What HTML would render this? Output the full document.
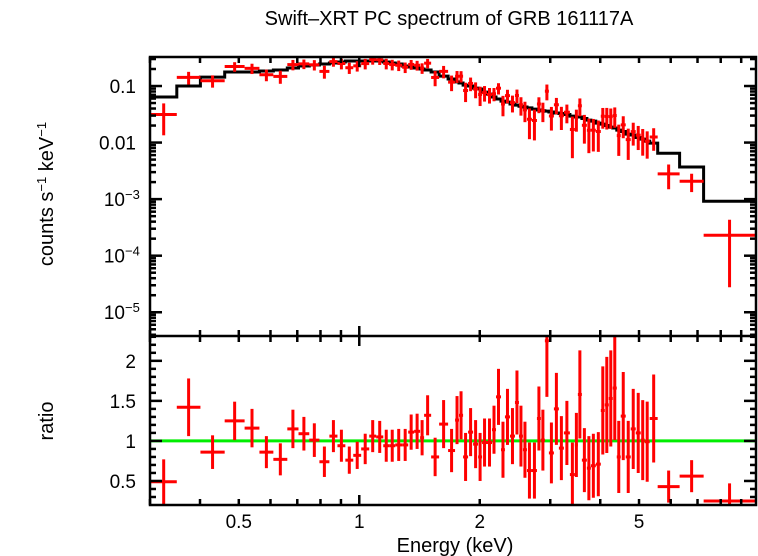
<!DOCTYPE html>
<html><head><meta charset="utf-8">
<style>
html,body{margin:0;padding:0;background:#fff;}
svg{display:block;font-family:"Liberation Sans",sans-serif;}
</style></head>
<body>
<svg id="chart" width="758" height="556" viewBox="0 0 758 556">
  <text x="449" y="25" font-size="20" text-anchor="middle">Swift–XRT PC spectrum of GRB 161117A</text>
  <text transform="translate(53,194) rotate(-90)" font-size="20" text-anchor="middle">counts s<tspan dy="-7" font-size="13">−1</tspan><tspan dy="7"> keV</tspan><tspan dy="-7" font-size="13">−1</tspan></text>
  <text transform="translate(53,421) rotate(-90)" font-size="20" text-anchor="middle">ratio</text>
  <text x="455" y="552" font-size="20" text-anchor="middle">Energy (keV)</text>
  <g id="topPanel"></g>
  <g id="botPanel"></g>
</svg>
<script>
const binEdges = [0.301,0.350,0.401,0.461,0.517,0.563,0.610,0.661,0.705,0.750,0.795,0.842,0.882,0.923,0.966,1.011,1.059,1.102,1.148,1.188,1.230,1.280,1.325,1.371,1.419,1.452,1.512,1.583,
1.667,1.735,1.775,1.817,1.870,1.925,1.981,2.027,2.085,2.146,2.196,2.260,2.312,2.380,2.449,2.506,2.564,2.624,2.700,2.779,2.843,2.909,2.977,3.064,3.153,3.245,3.359,3.457,3.517,3.599,3.704,3.790,3.900,4.013,4.106,4.202,4.299,4.399,4.501,4.632,4.767,4.906,5.049,5.166,5.316,5.566,6.315,7.251,9.77];
const modelValues = [0.064,0.100,0.144,0.177,0.177,0.184,0.192,0.208,0.226,0.235,0.245,0.255,0.266,0.277,0.277,0.277,0.277,0.277,0.266,0.255,0.245,0.226,0.217,0.208,0.200,0.192,0.177,
0.150,0.133,0.118,0.113,0.104,0.100,0.092,0.0885,0.078,0.072,0.064,0.059,0.054,0.052,0.048,0.046,0.044,0.0425,0.041,0.039,0.0376,0.0365,0.036,0.0347,0.0333,0.0327,0.0313,0.0294,0.0283,0.0283,0.0266,0.025,0.024,0.0221,0.0212,0.020,0.0188,0.0181,0.0166,0.0157,0.0141,0.0136,0.0123,0.0115,0.0106,0.0098,0.0065,0.0037,0.00092];
const ratioValues = [0.49,1.42,0.86,1.25,1.16,0.86,0.77,1.15,1.09,1.01,0.74,1.06,0.94,0.76,0.82,0.9,1.06,1.05,0.94,0.94,0.95,0.95,1.11,1.12,1.04,1.32,0.8,
1.21,0.88,1.26,1.32,0.8,1.11,0.96,0.8,0.98,0.98,1.14,1.55,0.89,1.3,1.06,1.48,1.06,0.89,0.63,0.63,1.28,1.01,2.25,0.85,1.4,0.91,1.1,0.58,0.95,1.58,0.76,0.66,0.69,0.71,1.38,1.45,1.53,1.66,0.8,1.31,0.8,1.15,1.1,1.01,0.99,1.28,0.43,0.56,0.25];
const ratioErrors = [0.28,0.36,0.21,0.24,0.24,0.2,0.2,0.24,0.21,0.21,0.19,0.2,0.2,0.17,0.17,0.19,0.2,0.2,0.2,0.2,0.2,0.2,0.22,0.22,0.22,0.25,0.24,
0.3,0.27,0.3,0.3,0.3,0.3,0.3,0.3,0.3,0.3,0.3,0.35,0.35,0.35,0.35,0.4,0.38,0.35,0.35,0.35,0.4,0.38,0.7,0.38,0.45,0.4,0.4,0.4,0.4,0.55,0.4,0.4,0.4,0.4,0.55,0.6,0.6,0.65,0.45,0.55,0.45,0.5,0.5,0.5,0.5,0.55,0.2,0.2,0.22];
const xTickLabels = ["0.5","1","2","5"];
const xTickValues = [0.5,1,2,5];
const ratioTickLabels = ["0.5","1","1.5","2"];
const ratioTickValues = [0.5,1,1.5,2];

const NS="http://www.w3.org/2000/svg";
const L=150,R=756,T=57,M=336,B=505;
const X_MIN=0.3,X_MAX=9.8;
const xs=e=>L+(Math.log10(e)-Math.log10(X_MIN))/(Math.log10(X_MAX)-Math.log10(X_MIN))*(R-L);
const YT_MIN=-5.42,YT_MAX=-0.487;
const yt=v=>{let lv=Math.log10(Math.max(v,1e-9));return M-(lv-YT_MIN)/(YT_MAX-YT_MIN)*(M-T);};
const RB_MIN=0.2,RB_MAX=2.31;
const yr=v=>B-(v-RB_MIN)/(RB_MAX-RB_MIN)*(B-M);
const clamp=(v,a,b)=>Math.max(a,Math.min(b,v));
function mk(tag,attrs,parent){const e=document.createElementNS(NS,tag);for(const k in attrs)e.setAttribute(k,attrs[k]);parent.appendChild(e);return e;}
const topG=document.getElementById('topPanel'),botG=document.getElementById('botPanel'),svgEl=document.getElementById('chart');

// model step
let d="";
for(let i=0;i<modelValues.length;i++){
  const x0=xs(binEdges[i]),x1=xs(binEdges[i+1]),y=yt(modelValues[i]);
  d+=(i===0?"M":"L")+x0.toFixed(1)+","+y.toFixed(1)+"L"+x1.toFixed(1)+","+y.toFixed(1);
}
const model=mk('path',{d:d,fill:'none',stroke:'#000','stroke-width':3},topG);



// green unity line
const g1=mk('line',{x1:L,x2:R,y1:yr(1),y2:yr(1),stroke:'#00ee00','stroke-width':3},botG);



// data points
for(let i=0;i<ratioValues.length;i++){
  const x0=xs(binEdges[i]),x1=xs(binEdges[i+1]),xc=xs(Math.sqrt(binEdges[i]*binEdges[i+1]));
  const f=ratioValues[i]*modelValues[i],fe=ratioErrors[i]*modelValues[i];
  const gt=mk('g',{stroke:'#ff0000','stroke-width':3},topG);
  
  
  const yc=yt(f),yu=clamp(yt(f+fe),T,M),yl=f-fe>0?clamp(yt(f-fe),T,M):M;
  mk('line',{x1:x0,x2:x1,y1:yc,y2:yc},gt);
  mk('line',{x1:xc,x2:xc,y1:yu,y2:yl},gt);
  const gb=mk('g',{stroke:'#ff0000','stroke-width':3},botG);
  
  
  const rc=yr(ratioValues[i]),ru=clamp(yr(ratioValues[i]+ratioErrors[i]),M,B),rl=clamp(yr(ratioValues[i]-ratioErrors[i]),M,B);
  mk('line',{x1:x0,x2:x1,y1:rc,y2:rc},gb);
  mk('line',{x1:xc,x2:xc,y1:ru,y2:rl},gb);
}

// frames
const ax=mk('g',{stroke:'#000','stroke-width':2.5,fill:'none'},svgEl);


mk('rect',{x:L,y:T,width:R-L,height:B-T},ax);
mk('line',{x1:L,x2:R,y1:M,y2:M},ax);
[0.1,1].forEach(dec=>{
  for(let k=1;k<10;k++){
    const v=+(k*dec).toFixed(3);
    if(v<X_MIN||v>X_MAX)continue;
    const x=xs(v),len=(k===1)?10:6;
    mk('line',{x1:x,x2:x,y1:T,y2:T+len},ax);
    mk('line',{x1:x,x2:x,y1:M-len,y2:M+len},ax);
    mk('line',{x1:x,x2:x,y1:B,y2:B-len},ax);
  }
});
for(let p=-6;p<0;p++){
  for(let k=1;k<10;k++){
    const v=k*Math.pow(10,p);const y=yt(v);
    if(y<T||y>M)continue;
    const len=k===1?12:6;
    mk('line',{x1:L,x2:L+len,y1:y,y2:y},ax);
    mk('line',{x1:R,x2:R-len,y1:y,y2:y},ax);
  }
}
for(let i=3;i<=23;i++){
  const v=i/10,y=yr(v);const len=(i%5===0)?12:6;
  mk('line',{x1:L,x2:L+len,y1:y,y2:y},ax);
  mk('line',{x1:R,x2:R-len,y1:y,y2:y},ax);
}
// labels
const topLabels=[["0.1",-1],["0.01",-2],["10",-3],["10",-4],["10",-5]];
topLabels.forEach(([t,p])=>{
  const y=yt(Math.pow(10,p));
  const tx=mk('text',{x:p<=-3?125:136,y:y+7,'font-size':19,'text-anchor':'end'},svgEl);
  
  
  tx.textContent=t;
  if(p<=-3){
    const s=mk('text',{x:125,y:y,'font-size':13,'text-anchor':'start'},svgEl);
    
    
    s.textContent="−"+(-p);
  }
});
ratioTickValues.forEach((v,i)=>{
  const tx=mk('text',{x:136,y:yr(v)+7,'font-size':19,'text-anchor':'end'},svgEl);
  
  
  tx.textContent=ratioTickLabels[i];
});
xTickValues.forEach((v,i)=>{
  const tx=mk('text',{x:xs(v),y:528,'font-size':19,'text-anchor':'middle'},svgEl);
  
  
  tx.textContent=xTickLabels[i];
});
</script>
</body></html>
